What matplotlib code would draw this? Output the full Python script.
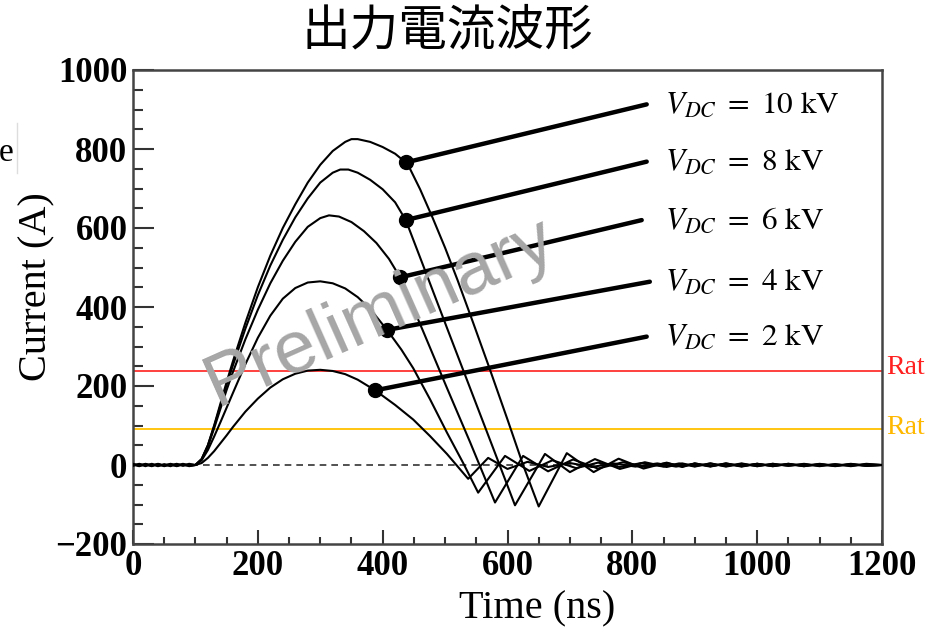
import numpy as np
import matplotlib
matplotlib.use("Agg")
import matplotlib.pyplot as plt
from matplotlib.lines import Line2D

plt.rcParams['mathtext.fontset'] = 'stix'

# ---- data: output current waveforms (time in ns, current in A) ----
# pre-trigger baseline and late-time tail, sampled on shared time grids
t_base = [0, 10, 20, 30, 40, 50, 60, 70, 80, 90]
t_tail = [900, 925, 950, 975, 1000, 1025, 1050, 1075, 1100, 1125, 1150, 1175, 1200]

base_2kV = [3, -1, 1, -3, 2, -2, 3, -1, 2, -3]
base_4kV = [-1, 2, -3, 3, -2, 1, -3, 2, -1, 3]
base_6kV = [1, -3, 2, -2, 3, -1, 2, -3, 1, -2]
base_8kV = [-2, 3, -1, 2, -3, 2, -1, 3, -2, 1]
base_10kV = [2, -2, 3, -1, 2, -3, 1, -2, 3, -1]

tail_2kV = [3, -4, 4, -3, 3, -3, 2, -3, 3, -2, 2, -2, 0]
tail_4kV = [-4, 4, -3, 4, -3, 3, -2, 3, -2, 2, -3, 2, 0]
tail_6kV = [4, -3, 3, -4, 3, -3, 3, -2, 2, -3, 2, -2, 0]
tail_8kV = [-3, 4, -4, 3, -3, 3, -2, 2, -3, 2, -2, 3, 0]
tail_10kV = [4, -3, 4, -3, 3, -2, 3, -3, 2, -2, 3, -2, 0]

# main pulse and ringing
t_2kV = [100, 110, 120, 130, 140, 150, 160, 180, 200, 220, 240, 260, 280, 300, 320, 340,
         360, 388, 420, 449, 476, 503, 537, 569, 600, 632, 665, 700, 735, 770, 805, 840, 870]
i_2kV = [0, 5, 18, 35, 55, 75, 96, 135, 168, 196, 217, 231, 239, 241, 238, 230,
         216, 189, 152, 115, 73, 28, -35, 18, -10, 8, -5, 5, -5, 4, -4, 4, -4]

t_4kV = [100, 110, 120, 130, 140, 150, 160, 180, 200, 220, 240, 260, 280, 300, 320, 340,
         360, 380, 407, 430, 449, 476, 503, 529, 553, 596, 635, 672, 710, 745, 780, 815,
         850, 875]
i_4kV = [0, 12, 38, 72, 108, 145, 182, 255, 322, 378, 421, 448, 462, 465, 460, 447,
         425, 395, 342, 292, 245, 166, 82, 5, -70, 23, -15, 12, -8, 6, -5, 5,
         -4, 4]

t_6kV = [100, 110, 120, 130, 140, 150, 160, 180, 200, 220, 240, 260, 280, 300, 314, 330,
         350, 370, 390, 410, 428, 465, 503, 540, 580, 625, 665, 705, 745, 785, 820, 855, 880]
i_6kV = [0, 14, 47, 93, 142, 190, 235, 318, 393, 460, 517, 565, 603, 625, 632, 629,
         615, 592, 562, 522, 475, 338, 195, 58, -95, 23, -16, 14, -9, 7, -5, 5, -4]

t_8kV = [100, 110, 120, 130, 140, 150, 160, 180, 200, 220, 240, 260, 280, 300, 320, 332,
         345, 360, 380, 400, 420, 437, 470, 505, 540, 575, 612, 660, 700, 740, 780, 820,
         855, 880]
i_8kV = [0, 15, 50, 98, 150, 203, 252, 345, 430, 505, 570, 627, 675, 715, 740, 748,
         748, 740, 722, 698, 665, 620, 484, 339, 195, 51, -102, 28, -18, 15, -10, 7,
         -5, 4]

t_10kV = [100, 110, 120, 130, 140, 150, 160, 180, 200, 220, 240, 260, 280, 300, 320, 340,
          350, 360, 380, 400, 420, 440, 460, 480, 500, 520, 545, 570, 600, 625, 650, 695,
          738, 778, 818, 855, 880]
i_10kV = [0, 15, 50, 100, 155, 210, 262, 360, 450, 530, 600, 660, 715, 760, 795, 818,
          825, 825, 818, 805, 788, 762, 698, 626, 550, 468, 360, 250, 115, 0, -105, 30,
          -18, 16, -9, 6, -5]

series = [
    ("10", t_base + t_10kV + t_tail, base_10kV + i_10kV + tail_10kV),
    ("8", t_base + t_8kV + t_tail, base_8kV + i_8kV + tail_8kV),
    ("6", t_base + t_6kV + t_tail, base_6kV + i_6kV + tail_6kV),
    ("4", t_base + t_4kV + t_tail, base_4kV + i_4kV + tail_4kV),
    ("2", t_base + t_2kV + t_tail, base_2kV + i_2kV + tail_2kV),
]

# label callouts: time of the marker on each curve, and (time, current) of the leader end
marker_t = [437, 437, 428, 407, 388]
leader_end_t = [823, 823, 815, 828, 823]
leader_end_i = [913, 768, 620, 464, 325]
label_t = 853

rated_hi = 237
rated_lo = 92

fig = plt.figure(figsize=(9.25, 6.31), dpi=100)
ax = fig.add_axes([133/925, 1-544/631, 749/925, 474/631])

ax.axhline(0, color='#333333', lw=1.2, ls=(0, (4, 3)), zorder=1)
ax.axhline(rated_hi, color='#ff3030', lw=1.3, zorder=1)
ax.axhline(rated_lo, color='#ffc000', lw=1.3, zorder=1)

for name, t, i in series:
    ax.plot(t, i, color='black', lw=1.5, zorder=3)

for (name, t, i), mt, ex, ey in zip(series, marker_t, leader_end_t, leader_end_i):
    my = float(np.interp(mt, t, i))
    ax.annotate('', xy=(mt, my), xytext=(ex, ey),
                arrowprops=dict(arrowstyle='-', lw=3.2, color='black',
                                shrinkA=0, shrinkB=0), zorder=4,
                annotation_clip=False)
    ax.plot([mt], [my], 'o', color='black', ms=10, zorder=5)
    ax.text(label_t, ey, r'$V_{DC}\ =\ %s\ \mathrm{kV}$' % name, fontsize=22.5,
            va='center', ha='left', zorder=5)

ax.text(396, 386, 'Preliminary', fontsize=54, color='#a6a6a6',
        family='Liberation Sans', rotation=24, ha='center', va='center', zorder=6,
        rotation_mode='anchor')

ax.set_xlim(0, 1200)
ax.set_ylim(-200, 1000)
ax.set_xticks(np.arange(0, 1201, 200))
ax.set_yticks(np.arange(-200, 1001, 200))
ax.set_xticks(np.arange(0, 1201, 50), minor=True)
ax.set_yticks(np.arange(-200, 1001, 50), minor=True)
ax.tick_params(axis='both', which='both', direction='in', color='#333333', width=1.5)
ax.tick_params(axis='y', which='major', length=15, pad=4)
ax.tick_params(axis='y', which='minor', length=7.5)
ax.tick_params(axis='x', which='major', length=10, pad=4)
ax.tick_params(axis='x', which='minor', length=5)
for lab in ax.get_xticklabels() + ax.get_yticklabels():
    lab.set_fontfamily('Liberation Serif')
    lab.set_fontweight('bold')
    lab.set_fontsize(25)
for sp in ax.spines.values():
    sp.set_color('#444444')
    sp.set_linewidth(1.8)

ax.set_xlabel('Time (ns)', fontsize=29, family='Liberation Serif')
ax.set_ylabel('Current (A)', fontsize=29, family='Liberation Serif')
ax.xaxis.set_label_coords(0.539, -0.097)
ax.yaxis.set_label_coords(-0.104, 0.542)

fig.text(447/925, 1-31/631, '出力電流波形', fontsize=35,
         family=['Noto Sans CJK JP', 'DejaVu Sans'], weight='normal',
         ha='center', va='center')

fig.text(886/925, 1-368/631, 'Rat', color='#ff2020', fontsize=20,
         family='Liberation Serif', va='center', ha='left')
fig.text(886/925, 1-428/631, 'Rat', color='#ffb800', fontsize=20,
         family='Liberation Serif', va='center', ha='left')

fig.text(-0.001, 1-153/631, 'e', fontsize=24, family='Liberation Serif',
         va='center', ha='left')
fig.add_artist(Line2D([17/925, 17/925], [1-123/631, 1-173/631],
                      color='#dddddd', lw=1))

fig.savefig('out.png', dpi=100)
